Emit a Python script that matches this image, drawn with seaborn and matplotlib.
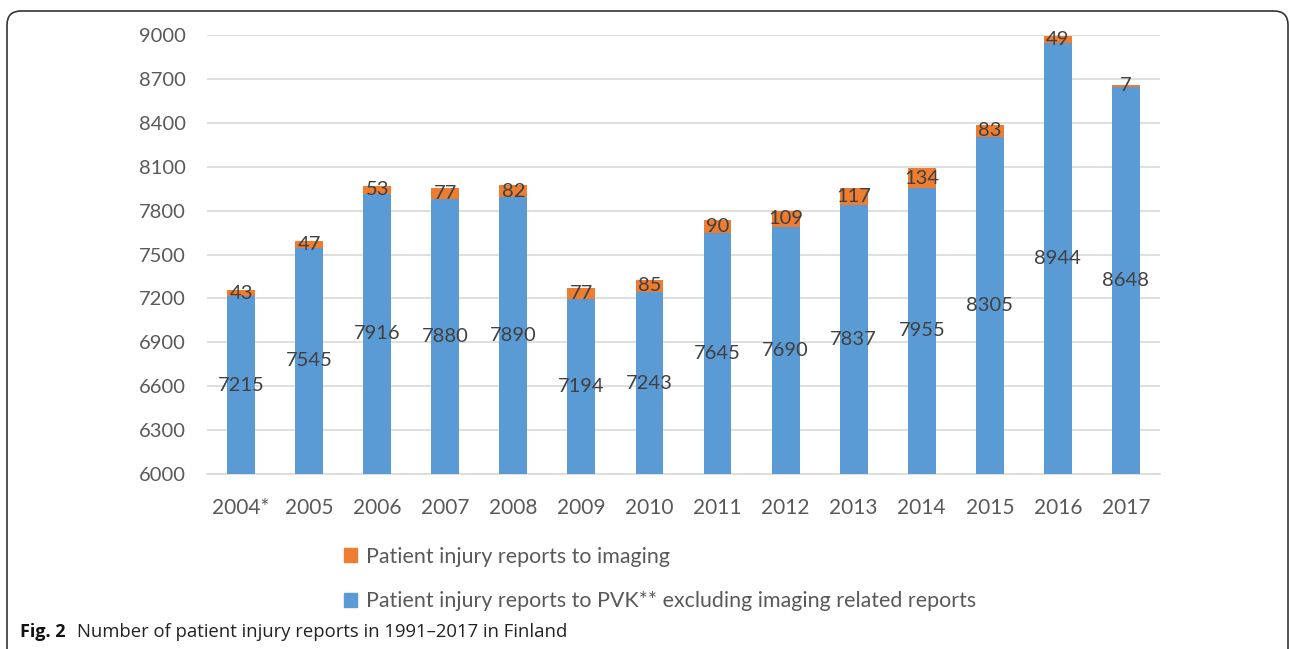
import matplotlib
matplotlib.use("Agg")
import matplotlib.pyplot as plt
import matplotlib.patches as mpatches
import pandas as pd
import seaborn as sns

# ── Data ──────────────────────────────────────────────────────────────────────
years = ["2004*", "2005", "2006", "2007", "2008", "2009", "2010",
         "2011", "2012", "2013", "2014", "2015", "2016", "2017"]
pvk_excl = [7215, 7545, 7916, 7880, 7890, 7194, 7243,
            7645, 7690, 7837, 7955, 8305, 8944, 8648]
imaging = [43, 47, 53, 77, 82, 77, 85, 90, 109, 117, 134, 83, 49, 7]

lab_img = "Patient injury reports to imaging"
lab_pvk = "Patient injury reports to PVK** excluding imaging related reports"
caption_bold = "Fig. 2"
caption = "Number of patient injury reports in 1991\u20132017 in Finland"

df = pd.DataFrame({"year": years, "pvk": pvk_excl, "img": imaging})
df["total"] = df["pvk"] + df["img"]

BLUE = "#5B9BD5"
ORANGE = "#ED7D31"
TXT = "#595959"
LBL = "#404040"

sns.set_style("white")
plt.rcParams["font.family"] = ["Lato", "DejaVu Sans"]

fig = plt.figure(figsize=(12.9, 6.49), dpi=100)
ax = fig.add_axes([207 / 1290, 1 - 474 / 649, 953 / 1290, 439 / 649])

# stacked: total (orange) behind, blue on top
sns.barplot(data=df, x="year", y="total", color=ORANGE, width=0.41,
            saturation=1, linewidth=0, ax=ax, zorder=2)
sns.barplot(data=df, x="year", y="pvk", color=BLUE, width=0.41,
            saturation=1, linewidth=0, ax=ax, zorder=3)

ymin, ymax = 6000, 9000
ax.set_ylim(ymin, ymax)
ax.set_xlim(-0.5, len(years) - 0.5)
ax.set_yticks(range(6000, 9001, 300))
ax.yaxis.grid(True, color="#D9D9D9", linewidth=1.2, zorder=0)
ax.set_axisbelow(True)
for s in ["top", "right", "left"]:
    ax.spines[s].set_visible(False)
ax.spines["bottom"].set_color("#D9D9D9")
ax.spines["bottom"].set_linewidth(1.2)
ax.set_xlabel("")
ax.set_ylabel("")
ax.tick_params(axis="both", length=0, labelcolor=TXT)
ax.tick_params(axis="y", labelsize=14.5, pad=15)
ax.tick_params(axis="x", labelsize=15, pad=17)

# data labels
for i, (p, m) in enumerate(zip(pvk_excl, imaging)):
    ax.text(i, (ymin + p) / 2, str(p), ha="center", va="center",
            fontsize=14.5, color=LBL, zorder=5)
    ax.text(i, p + m / 2, str(m), ha="center", va="center",
            fontsize=14.5, color=LBL, zorder=5)

# legend
handles = [mpatches.Patch(color=ORANGE, label=lab_img),
           mpatches.Patch(color=BLUE, label=lab_pvk)]
fig.legend(handles=handles, loc="upper left",
           bbox_to_anchor=(335 / 1290, 1 - 538 / 649), frameon=False,
           fontsize=15.4, labelcolor=TXT, handlelength=0.65, handleheight=0.65,
           handletextpad=0.4, labelspacing=1.15, borderaxespad=0)

# caption
fig.text(20 / 1290, 1 - 632 / 649, caption_bold, fontsize=13, fontweight="bold",
         family=["Open Sans", "DejaVu Sans"], va="center", ha="left", color="#111111")
fig.text(77 / 1290, 1 - 632 / 649, caption, fontsize=13.3,
         family=["Open Sans", "DejaVu Sans"], va="center", ha="left", color="#222222")

# rounded frame
frame = mpatches.FancyBboxPatch((7, -30), 1281, 649 - 10 + 30 - 1,
                                boxstyle="round,pad=0,rounding_size=14",
                                transform=None, fill=False,
                                edgecolor="#333333", linewidth=1.2)
fig.patches.append(frame)

fig.savefig("out.png", dpi=100)
